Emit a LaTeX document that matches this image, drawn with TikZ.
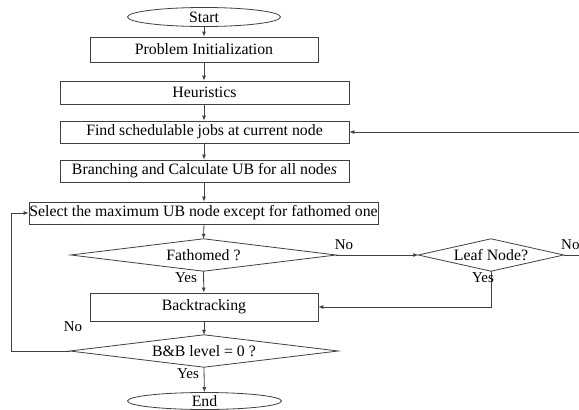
\documentclass[tikz,border=0pt]{standalone}
\usepackage{fontspec}
\setmainfont{Liberation Serif}
\usetikzlibrary{arrows.meta,shapes.geometric}
\begin{document}
\begin{tikzpicture}[x=1pt,y=-1pt,
  every node/.style={font=\fontsize{15.8}{18}\selectfont, inner sep=0pt},
  box/.style={draw=linegray, line width=0.8pt, rectangle},
  oval/.style={draw=linegray, line width=0.8pt, ellipse},
  dia/.style={draw=none, rectangle},
  conn/.style={draw=linegray, line width=0.8pt, -{Latex[length=5pt,width=4pt]}},
  plain/.style={draw=linegray, line width=0.8pt},
  lbl/.style={font=\fontsize{15}{17}\selectfont}]
\definecolor{linegray}{HTML}{404040}
\useasboundingbox (0,0) rectangle (579,410);
\clip (0,0) rectangle (579,410);
\fill[white] (0,0) rectangle (579,410);

\node[oval, minimum width=153pt, minimum height=19pt] (start) at (204,17) {Start};
\node[box, minimum width=228pt, minimum height=25pt] (init) at (204,49.5) {Problem Initialization};
\node[box, minimum width=289pt, minimum height=23pt] (heur) at (204.5,92.5) {Heuristics};
\node[box, minimum width=289pt, minimum height=22pt] (find) at (204.5,132) {Find schedulable jobs at current node};
\node[box, minimum width=289pt, minimum height=22pt] (branch) at (204.5,171) {Branching and Calculate UB for all node\textit{s}};
\node[box, minimum width=349pt, minimum height=22pt] (select) at (203.5,213) {Select the maximum UB node except for fathomed one};
\node[dia, minimum width=265pt, minimum height=32pt] (fath) at (203.5,255) {Fathomed ?};
\node[dia, minimum width=145pt, minimum height=32pt] (leaf) at (491,255) {Leaf Node?};
\node[box, minimum width=228pt, minimum height=28pt] (back) at (204,307) {Backtracking};
\node[dia, minimum width=268pt, minimum height=32pt] (bb) at (204,351) {B\&B level = 0 ?};
\node[oval, minimum width=154pt, minimum height=17pt] (end) at (204.5,401) {End};

\foreach \d in {fath,leaf,bb}{
  \draw[plain] (\d.west) -- (\d.north) -- (\d.east) -- (\d.south) -- cycle;
}

\coordinate (rtop) at (590,132);
\coordinate (rbot) at (590,255);
\coordinate (ltop) at (11,213);
\coordinate (lbot) at (11,351);
\coordinate (leafturn) at (leaf.south |- back.east);

\draw[conn] (start) -- (start |- init.north);
\draw[conn] (init) -- (init |- heur.north);
\draw[conn] (init |- heur.south) -- (init |- find.north);
\draw[conn] (init |- find.south) -- (init |- branch.north);
\draw[conn] (init |- branch.south) -- (init |- select.north);
\draw[conn] (init |- select.south) -- (fath.north);
\draw[conn] (fath.east) -- (leaf.west);
\draw[conn] (fath.south) -- (back);
\draw[conn] (leaf.south) -- (leafturn) -- (back.east);
\draw[conn] (leaf.east) -- (rbot) -- (rtop) -- (find.east);
\draw[conn] (back) -- (bb.north);
\draw[conn] (bb.west) -- (lbot) -- (ltop) -- (select.west);
\draw[conn] (bb.south) -- (end);

\node[lbl] (no1) at (344,245) {No};
\node[lbl, anchor=west] (no2) at (561,245) {No};
\node[lbl] (yes1) at (186,277.5) {Yes};
\node[lbl] (yes2) at (483,278) {Yes};
\node[lbl] (no3) at (73,327) {No};
\node[lbl] (yes3) at (188,374) {Yes};
\end{tikzpicture}
\end{document}
